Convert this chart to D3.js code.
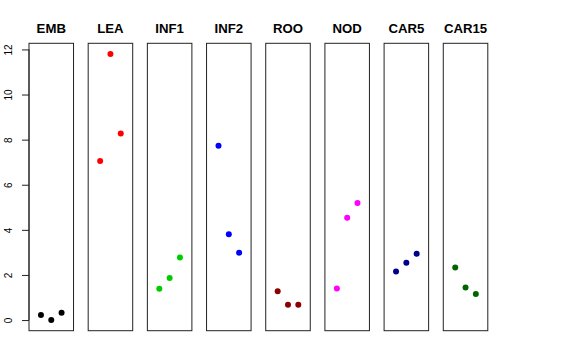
<!DOCTYPE html>
<html>
<head>
<meta charset="utf-8">
<script src="https://cdn.jsdelivr.net/npm/d3@7"></script>
<style>
html,body{margin:0;padding:0;background:#fff;}
svg{display:block;}
</style>
</head>
<body>
<svg id="chart" width="576" height="360"></svg>
<script>
const categories = ["EMB","LEA","INF1","INF2","ROO","NOD","CAR5","CAR15"];
const colors = ["#000000","#FF0000","#00CD00","#0000FF","#8B0000","#FF00FF","#00008B","#006400"];
const values = [
  [0.22, 0.0, 0.32],
  [7.05, 11.8, 8.27],
  [1.39, 1.86, 2.77],
  [7.73, 3.81, 2.99],
  [1.28, 0.68, 0.68],
  [1.40, 4.54, 5.19],
  [2.15, 2.54, 2.94],
  [2.33, 1.44, 1.16]
];
const replicates = [1, 2, 3];
const yTicks = [0, 2, 4, 6, 8, 10, 12];

(function () {
const svg = d3.select("#chart");
const plotTop = 43.3, plotBottom = 330.7;

const all = values.flat();
const ymin = d3.min(all), ymax = d3.max(all);
const pad = (ymax - ymin) * 0.04;
const y = d3.scaleLinear().domain([ymin - pad, ymax + pad]).range([plotBottom, plotTop]);

const xBand = d3.scaleBand().domain(categories).range([29, 487.8]).paddingInner(0.2476).paddingOuter(0);
const bw = xBand.bandwidth();
const xIn = d3.scaleLinear().domain([0 - 0.16, 4 + 0.16]).range([0, bw]);

categories.forEach((cat, i) => {
  const g = svg.append("g").attr("transform", `translate(${xBand(cat)},0)`);
  g.append("rect")
    .attr("x", 0).attr("y", plotTop)
    .attr("width", bw).attr("height", plotBottom - plotTop)
    .attr("fill", "none").attr("stroke", "#222").attr("stroke-width", 1);
  g.append("text")
    .attr("x", bw / 2).attr("y", 33.3)
    .attr("text-anchor", "middle")
    .attr("font-family", "Liberation Sans, Arial, sans-serif")
    .attr("font-weight", "bold")
    .attr("font-size", 13.2)
    .text(cat);
  g.selectAll("circle").data(values[i]).join("circle")
    .attr("cx", (d, j) => xIn(replicates[j]))
    .attr("cy", d => y(d))
    .attr("r", 3)
    .attr("fill", colors[i]);
});

const axis = d3.axisLeft(y).tickValues(yTicks).tickSize(7).tickPadding(4).tickFormat(d3.format("d"));
const ag = svg.append("g").attr("transform", `translate(${xBand(categories[0])},0)`).call(axis);
ag.select(".domain").attr("d", `M-0,${y(0)}V${y(12)}`).attr("stroke", "#222");
ag.selectAll(".tick line").attr("stroke", "#222");
ag.selectAll(".tick text")
  .attr("font-family", "Liberation Sans, Arial, sans-serif")
  .attr("font-size", 10)
  .attr("fill", "#000")
  .attr("text-anchor", "middle")
  .attr("dy", null)
  .attr("x", null)
  .attr("transform", "translate(-17,0) rotate(-90)");
})();
</script>
</body>
</html>
